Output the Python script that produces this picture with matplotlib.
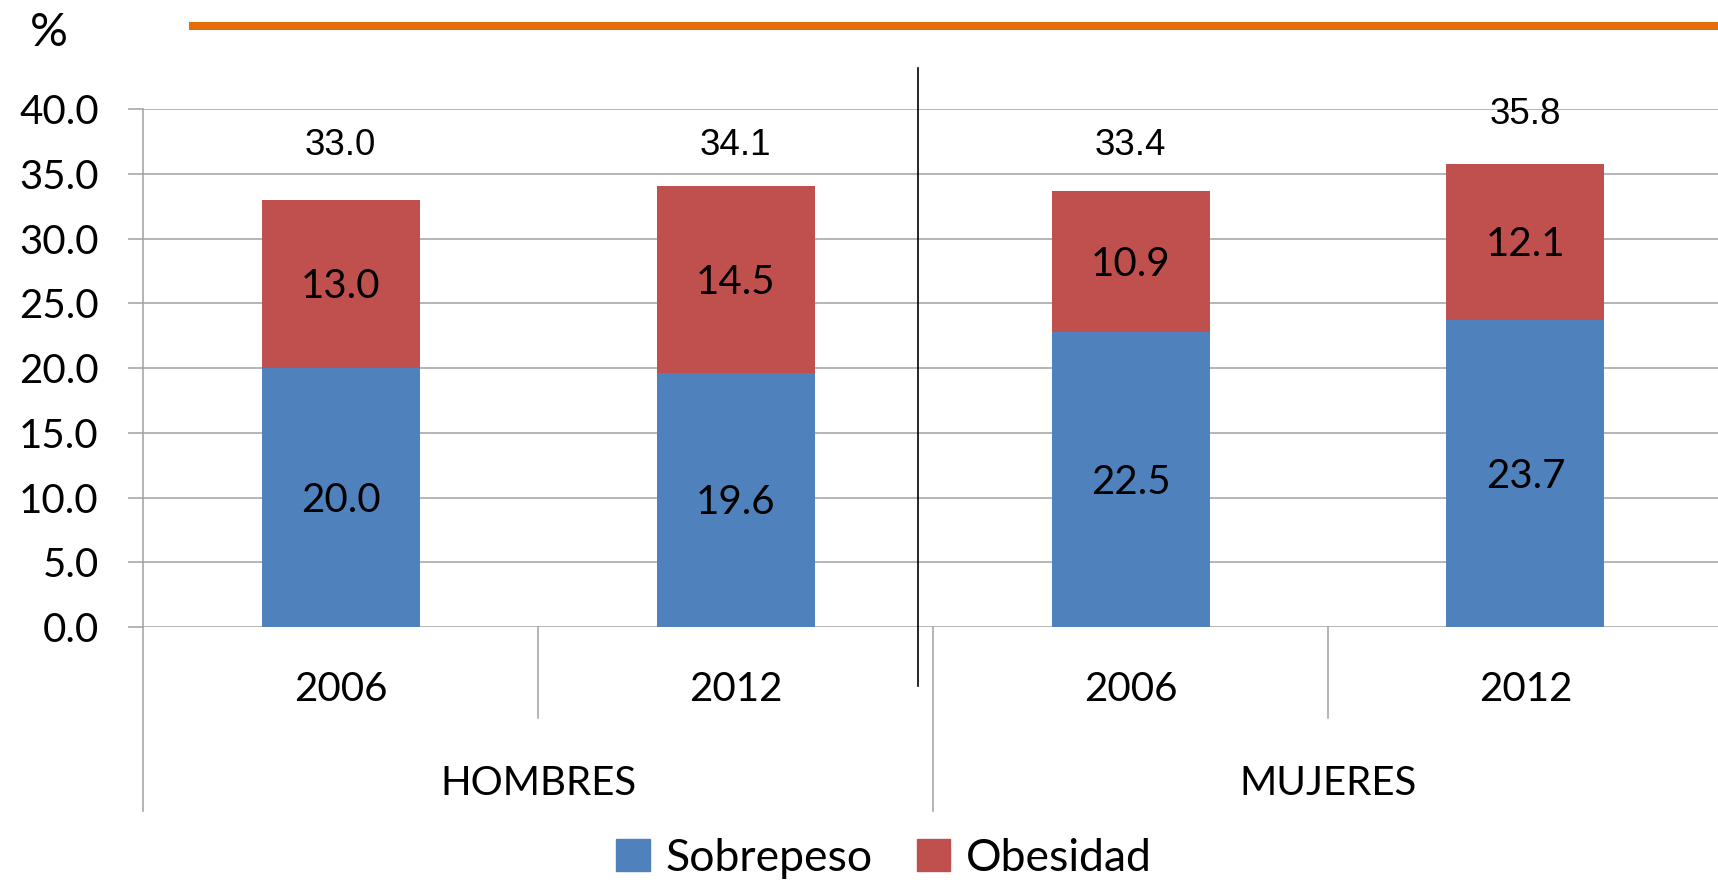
import matplotlib
matplotlib.use("Agg")
import matplotlib.pyplot as plt
from matplotlib.lines import Line2D
from matplotlib.patches import Patch
import matplotlib.transforms as mtransforms

# ---- data ----
groups = ["HOMBRES", "MUJERES"]
years = ["2006", "2012", "2006", "2012"]
# bar heights as drawn in the picture
sobrepeso = [20.0, 19.6, 22.8, 23.7]
obesidad = [13.0, 14.5, 10.9, 12.1]
# label texts as printed in the picture
sobrepeso_labels = ["20.0", "19.6", "22.5", "23.7"]
obesidad_labels = ["13.0", "14.5", "10.9", "12.1"]
totales_labels = ["33.0", "34.1", "33.4", "35.8"]
y_ticks = [0, 5, 10, 15, 20, 25, 30, 35, 40]

# ---- style ----
BLUE = "#4F81BD"
RED = "#C0504D"
GRID = "#A0A0A0"
ORANGE = "#E46C0A"
FONT = "Lato"
ARIAL = "Liberation Sans"
total_label_y = [37.2, 37.2, 37.2, 39.6]

W, H = 1718, 880
fig = plt.figure(figsize=(W / 100, H / 100), dpi=100)
ax = fig.add_axes([143 / W, 253 / H, 1580 / W, 517.6 / H])

x = list(range(len(years)))
ax.bar(x, sobrepeso, width=0.4, color=BLUE, zorder=3)
ax.bar(x, obesidad, bottom=sobrepeso, width=0.4, color=RED, zorder=3)

ax.set_xlim(-0.5, 3.5)
ax.set_ylim(0, 40)
ax.set_yticks(y_ticks)
ax.set_yticklabels([f"{v:.1f}" for v in y_ticks], fontsize=29, fontfamily=FONT)
ax.tick_params(axis="y", length=10.8, width=1.1, color=GRID, pad=21)
ax.set_xticks([])
ax.yaxis.grid(True, color=GRID, linewidth=1.1, zorder=0)
ax.set_axisbelow(True)
for s in ["top", "right", "bottom"]:
    ax.spines[s].set_visible(False)
ax.spines["left"].set_color(GRID)
ax.spines["left"].set_linewidth(1.1)

# value labels
for i in x:
    ax.text(i, sobrepeso[i] / 2 - 0.2, sobrepeso_labels[i], ha="center", va="center",
            fontsize=29, fontfamily=FONT, zorder=4)
    ax.text(i, sobrepeso[i] + obesidad[i] / 2 - 0.2, obesidad_labels[i], ha="center",
            va="center", fontsize=29, fontfamily=FONT, zorder=4)
    ax.text(i, total_label_y[i], totales_labels[i], ha="center", va="center",
            fontsize=26.5, fontfamily=ARIAL, zorder=4)

# category axis (two-level)
trans = mtransforms.blended_transform_factory(ax.transData, ax.transAxes)
for xs in [0.5, 2.5]:
    ax.add_line(Line2D([xs, xs], [0, -0.176], transform=trans, color=GRID, lw=1.1, clip_on=False))
for xs in [-0.5, 1.5, 3.5]:
    ax.add_line(Line2D([xs, xs], [0, -0.3555], transform=trans, color=GRID, lw=1.1, clip_on=False))
for i, yr in enumerate(years):
    ax.text(i, -0.1217, yr, transform=trans, ha="center", va="center", fontsize=29, fontfamily=FONT)
for g, name in enumerate(groups):
    ax.text(0.5 + 2 * g, -0.3014, name, transform=trans, ha="center", va="center",
            fontsize=29, fontfamily=FONT)

# dark divider between groups
ax.add_line(Line2D([1.462, 1.462], [43.2, -4.56], color="black", lw=1.2, clip_on=False, zorder=5))

# orange decoration line and % label
fig.add_artist(Line2D([193 / W, 1.0], [1 - 26.5 / H, 1 - 26.5 / H], color=ORANGE, lw=5.8))
fig.text(49 / W, 1 - 33 / H, "%", ha="center", va="center", fontsize=34, fontfamily=FONT)

# legend
handles = [Patch(color=BLUE, label="Sobrepeso"), Patch(color=RED, label="Obesidad")]
fig.legend(handles=handles, loc="center", bbox_to_anchor=(884 / W, 1 - 858 / H), ncol=2,
           frameon=False, prop={"family": FONT, "size": 32}, handlelength=0.75, handleheight=0.75,
           handletextpad=0.35, columnspacing=1.0, borderaxespad=0)

fig.savefig("out.png", dpi=100)
